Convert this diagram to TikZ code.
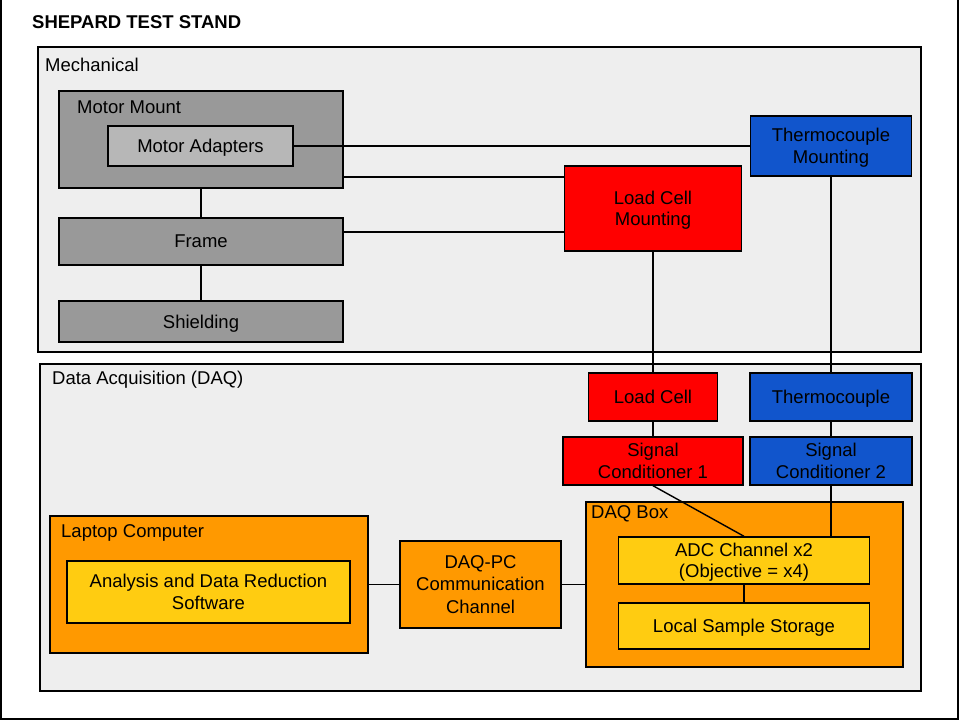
\documentclass[tikz,border=0pt]{standalone}
\usepackage{fontspec}
\setmainfont{Liberation Sans}
\usetikzlibrary{calc}
\pgfdeclarelayer{bg}
\pgfsetlayers{bg,main}
\definecolor{contfill}{HTML}{EEEEEE}
\definecolor{mgray}{HTML}{999999}
\definecolor{lgray}{HTML}{B7B7B7}
\definecolor{sred}{HTML}{FF0000}
\definecolor{sblue}{HTML}{1155CC}
\definecolor{sorange}{HTML}{FF9900}
\definecolor{syellow}{HTML}{FFCC11}
\tikzset{
  x=1pt, y=-1pt,
  every node/.style={font=\fontsize{18.5}{21.5}\selectfont, text=black},
  blk/.style={draw=black, line width=1.4pt, inner sep=0pt, align=center, text depth=0pt},
  cont/.style={blk, fill=contfill},
  graybox/.style={blk, fill=mgray},
  lgraybox/.style={blk, fill=lgray},
  redbox/.style={blk, fill=sred},
  bluebox/.style={blk, fill=sblue},
  orbox/.style={blk, fill=sorange},
  yelbox/.style={blk, fill=syellow},
  lbl/.style={anchor=west, inner sep=0pt, text depth=0pt},
  conn/.style={draw=black, line width=1.4pt},
}
\begin{document}
\begin{tikzpicture}
\useasboundingbox (0,0) rectangle (960,720);
\begin{pgfonlayer}{bg}
\node[draw=black, line width=1.4pt, fill=white, minimum width=957pt, minimum height=723pt] (outer) at (479.5,357.5) {};
\node[cont, minimum width=883pt, minimum height=305pt] (mech) at (479.5,199.5) {};
\node[cont, minimum width=881pt, minimum height=327pt] (daq) at (480.5,527.5) {};
\node[graybox, minimum width=284pt, minimum height=97pt] (mm) at (201,139.5) {};
\node[orbox, minimum width=318pt, minimum height=137pt] (laptop) at (209,584.5) {};
\node[orbox, minimum width=317pt, minimum height=165pt] (dbox) at (744.5,584.5) {};
\end{pgfonlayer}

\node[lbl, font=\fontsize{18.5}{21.5}\selectfont\bfseries] (title) at (32,22) {SHEPARD TEST STAND};
\node[lbl] (mechlbl) at (45,65) {Mechanical};
\node[lbl] (daqlbl) at (52,378) {Data Acquisition (DAQ)};
\node[lbl] (mmlbl) at (77,107) {Motor Mount};
\node[lbl] (laplbl) at (61,531) {Laptop Computer};
\node[lbl] (dboxlbl) at (591,512) {DAQ Box};

\node[lgraybox, minimum width=185pt, minimum height=40pt] (ma) at (200.5,146) {Motor Adapters};
\node[graybox, minimum width=284pt, minimum height=47pt] (frame) at (201,241.5) {Frame};
\node[graybox, minimum width=284pt, minimum height=41pt] (shield) at (201,321.5) {Shielding};
\node[redbox, minimum width=177pt, minimum height=85pt] (lcm) at (653,208.5) {Load Cell\\Mounting};
\node[bluebox, minimum width=161pt, minimum height=60pt] (tcm) at (831,146) {Thermocouple\\Mounting};

\node[redbox, minimum width=129pt, minimum height=48pt] (lc) at (653,397) {Load Cell};
\node[bluebox, minimum width=162pt, minimum height=48pt] (tc) at (831,397) {Thermocouple};
\node[redbox, minimum width=180pt, minimum height=48pt] (sc1) at (653,461) {Signal\\Conditioner 1};
\node[bluebox, minimum width=162pt, minimum height=48pt] (sc2) at (831,461) {Signal\\Conditioner 2};
\node[yelbox, minimum width=251pt, minimum height=47pt] (adc) at (744,560.5) {ADC Channel x2\\(Objective = x4)};
\node[yelbox, minimum width=251pt, minimum height=46pt] (lss) at (744,626) {Local Sample Storage};
\node[yelbox, minimum width=283pt, minimum height=62pt] (sw) at (208.5,592) {Analysis and Data Reduction\\Software};
\node[orbox, minimum width=161pt, minimum height=87pt, font=\fontsize{18.5}{22.5}\selectfont] (dpc) at (480.5,584.5) {DAQ-PC\\Communication\\Channel};

\begin{pgfonlayer}{bg}
\draw[conn] (ma.east) -- (tcm.west);
\draw[conn] (mm.east |- 0,177) -- (lcm.west |- 0,177);
\draw[conn] (frame.east |- 0,232) -- (lcm.west |- 0,232);
\draw[conn] (mm.south) -- (frame.north);
\draw[conn] (frame.south) -- (shield.north);
\draw[conn] (lcm.south) -- (lc.north);
\draw[conn] (tcm.south) -- (tc.north);
\draw[conn] (lc.south) -- (sc1.north);
\draw[conn] (tc.south) -- (sc2.north);
\draw[conn] (sc1.south) -- (adc.north);
\draw[conn] (sc2.south) -- (sc2.south |- adc.north);
\draw[conn] (adc.south) -- (lss.north);
\draw[conn] (laptop.east) -- (dpc.west);
\draw[conn] (dpc.east) -- (dbox.west);
\end{pgfonlayer}
\end{tikzpicture}
\end{document}
